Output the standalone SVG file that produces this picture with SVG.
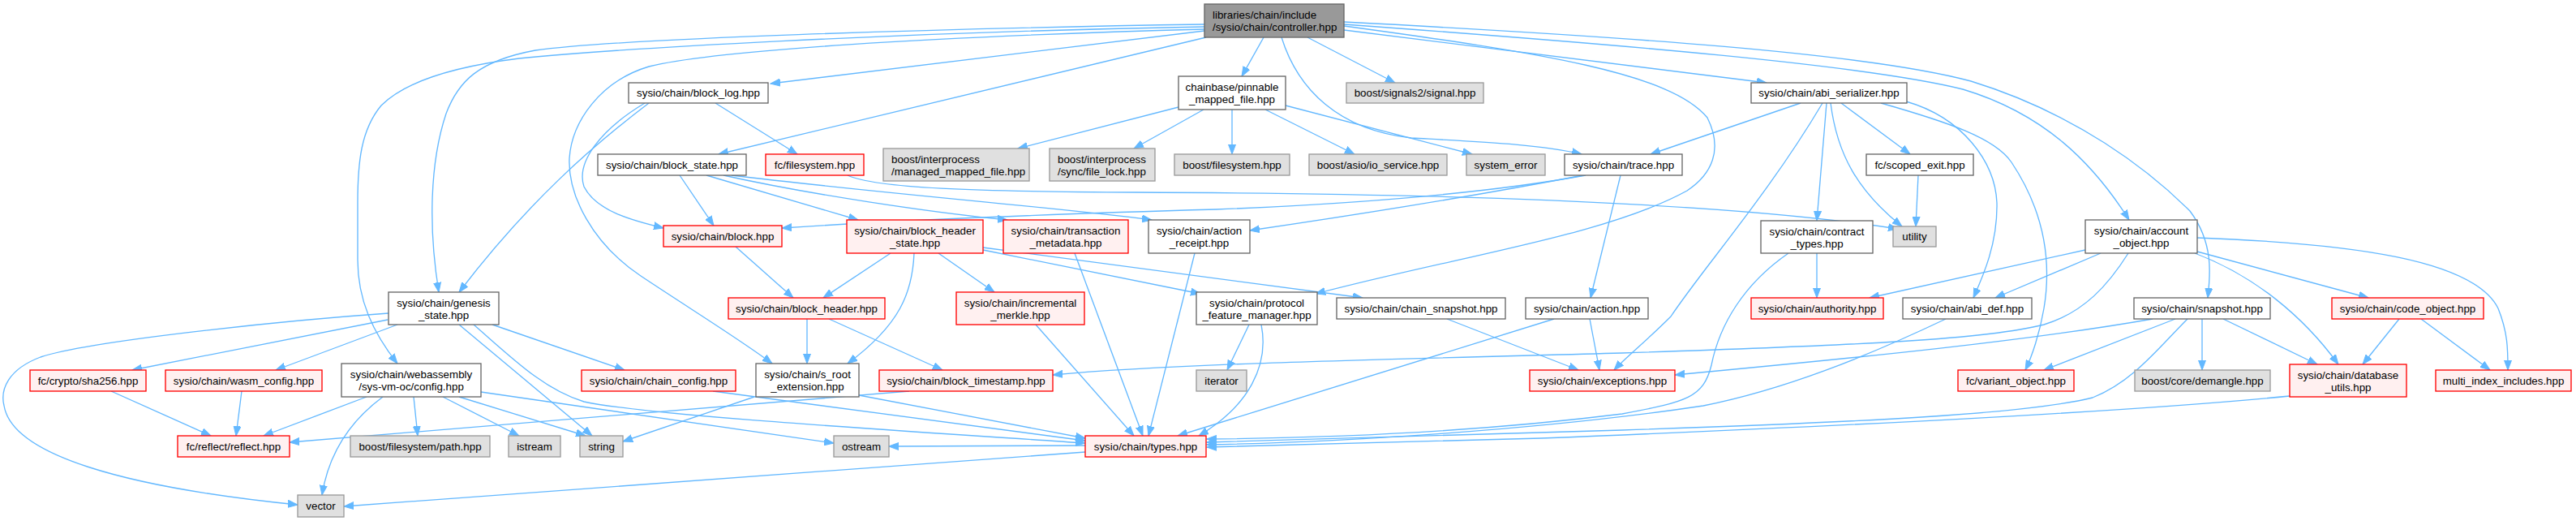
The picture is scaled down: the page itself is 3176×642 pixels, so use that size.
<svg xmlns="http://www.w3.org/2000/svg" width="3176" height="642" viewBox="0 0 3176 642">
<style>
rect{stroke-width:1.33}
.w{fill:#ffffff;stroke:#666666}
.r{fill:#fff0f0;stroke:#ff0000}
.g{fill:#e0e0e0;stroke:#999999}
.t{fill:#999999;stroke:#666666}
text{font-family:"Liberation Sans",Arial,Helvetica,sans-serif;font-size:13.33px;fill:#000000;text-anchor:middle}
text.l{text-anchor:start}
#edges path{fill:none;stroke:#63b8ff;stroke-width:1.33;marker-end:url(#a)}
</style>
<defs>
<marker id="a" markerWidth="13" markerHeight="10" refX="12" refY="5" orient="auto" markerUnits="userSpaceOnUse">
<path d="M0,0.5 L12,5 L0,9.5 z" fill="#63b8ff" stroke="#63b8ff" stroke-width="1"/>
</marker>
</defs>
<rect width="3176" height="642" fill="#ffffff"/>
<g id="edges">
<path d="M1485,38 L950,103"/>
<path d="M1487,46 L886,190"/>
<path d="M1485,30 C1150,35 760,48 660,62 C590,75 565,100 550,140 C530,200 528,280 541,360"/>
<path d="M1485,33 C1100,40 760,60 640,72 C560,82 500,100 470,130 C445,160 441,200 441,250 L441,320 C441,370 460,410 490,448"/>
<path d="M1485,36 C1150,45 880,62 800,82 C740,100 705,150 702,195 C700,240 730,300 790,340 C850,380 915,420 952,448"/>
<path d="M800,127 C730,180 650,250 566,360"/>
<path d="M795,127 C740,160 710,200 720,230 C735,260 780,272 818,281"/>
<path d="M882,127 L983,190"/>
<path d="M1558,46 L1531,94"/>
<path d="M1612,46 L1720,102"/>
<path d="M1580,46 C1600,110 1650,160 1740,170 C1830,175 1900,178 1950,190"/>
<path d="M1657,37 L2178,102"/>
<path d="M1657,32 C1900,65 2060,90 2105,145 C2125,185 2110,215 2080,235 C1980,290 1800,315 1622,362"/>
<path d="M1657,30 C2000,55 2300,80 2420,110 C2520,140 2580,200 2625,271"/>
<path d="M1657,27 C2000,45 2300,65 2430,100 C2560,140 2650,210 2700,260 C2730,300 2725,340 2722,367"/>
<path d="M1453,132 L1255,183"/>
<path d="M1484,135 L1398,183"/>
<path d="M1519,135 L1519,190"/>
<path d="M1560,135 L1670,190"/>
<path d="M1585,130 L1815,190"/>
<path d="M2220,127 L2035,190"/>
<path d="M2247,127 C2180,240 2100,330 2060,390 C2030,420 2005,440 1990,456"/>
<path d="M2252,127 L2240,272"/>
<path d="M2257,127 C2265,190 2290,235 2345,279"/>
<path d="M2270,127 L2355,190"/>
<path d="M2350,125 C2420,145 2460,200 2462,250 C2463,300 2445,340 2433,367"/>
<path d="M2319,127 C2400,150 2460,170 2480,200 C2520,260 2530,320 2520,380 C2515,410 2505,440 2497,456"/>
<path d="M2365,216 L2362,279"/>
<path d="M1045,216 C1080,232 1200,236 1400,237 C1700,238 2100,245 2340,282"/>
<path d="M1955,216 C1850,235 1700,250 1500,258 C1250,265 1100,272 964,281"/>
<path d="M1952,216 C1800,245 1650,268 1541,284"/>
<path d="M1998,216 L1961,367"/>
<path d="M838,216 L880,278"/>
<path d="M871,216 L1058,271"/>
<path d="M892,216 C1000,240 1150,262 1242,271"/>
<path d="M902,216 C1100,240 1300,255 1420,271"/>
<path d="M907,304 L978,367"/>
<path d="M1098,312 L1015,367"/>
<path d="M1127,312 C1125,360 1110,400 1045,448"/>
<path d="M1157,312 L1226,360"/>
<path d="M1212,308 L1480,362"/>
<path d="M1212,305 L1680,367"/>
<path d="M995,393 L995,448"/>
<path d="M1022,393 L1162,456"/>
<path d="M1277,400 L1398,537"/>
<path d="M1325,312 L1409,537"/>
<path d="M1473,312 L1416,537"/>
<path d="M1916,393 L1452,537"/>
<path d="M1960,393 L1972,456"/>
<path d="M1784,393 L1946,456"/>
<path d="M1540,400 L1513,456"/>
<path d="M1555,400 C1565,450 1540,500 1478,537"/>
<path d="M2240,312 L2240,367"/>
<path d="M2205,312 C2150,350 2120,400 2110,450 C2100,490 2080,495 2000,510 C1800,535 1600,540 1488,541"/>
<path d="M2571,308 L2305,367"/>
<path d="M2590,312 L2460,367"/>
<path d="M2624,312 C2600,350 2570,385 2520,400 C2450,418 2300,425 2000,435 C1700,443 1450,448 1298,462"/>
<path d="M2709,310 L2920,367"/>
<path d="M2706,312 C2780,340 2840,390 2883,449"/>
<path d="M2709,293 C2900,300 3050,320 3080,380 C3092,410 3092,430 3092,456"/>
<path d="M2654,393 C2500,420 2300,440 2065,462"/>
<path d="M2682,393 L2520,456"/>
<path d="M2697,393 C2660,430 2630,470 2580,490 C2500,510 2300,520 2000,530 C1800,537 1600,542 1488,545"/>
<path d="M2715,393 L2715,456"/>
<path d="M2741,393 L2857,449"/>
<path d="M2958,393 L2913,449"/>
<path d="M2985,393 L3070,456"/>
<path d="M2823,488 C2600,510 2200,528 1900,540 C1700,546 1560,550 1488,551"/>
<path d="M2399,393 C2300,440 2200,480 2100,500 C1900,530 1650,545 1488,548"/>
<path d="M479,386 C350,395 110,420 50,440 C10,455 0,480 5,500 C15,560 150,600 367,622"/>
<path d="M478,394 L163,456"/>
<path d="M490,400 L340,456"/>
<path d="M566,400 L730,537"/>
<path d="M584,400 C630,440 670,480 720,495 C800,512 1100,530 1338,546"/>
<path d="M607,400 L770,456"/>
<path d="M452,489 L325,537"/>
<path d="M472,489 C430,520 405,560 397,610"/>
<path d="M510,489 L515,537"/>
<path d="M546,489 L640,537"/>
<path d="M566,489 L722,537"/>
<path d="M593,483 L1028,546"/>
<path d="M137,482 L260,537"/>
<path d="M298,482 L291,537"/>
<path d="M1121,482 L357,545"/>
<path d="M930,489 L768,544"/>
<path d="M1059,487 L1338,540"/>
<path d="M879,482 L1338,543"/>
<path d="M1338,549 L1096,550"/>
<path d="M1338,557 L424,624"/>
</g>
<g id="n0"><rect class="t" x="1485" y="5" width="172" height="41"/><text class="l" x="1495" y="23">libraries/chain/include</text><text class="l" x="1495" y="38">/sysio/chain/controller.hpp</text></g>
<g id="n1"><rect class="w" x="775" y="102" width="172" height="25"/><text x="861" y="119">sysio/chain/block_log.hpp</text></g>
<g id="n2"><rect class="w" x="1453" y="94" width="132" height="41"/><text x="1519" y="112">chainbase/pinnable</text><text x="1519" y="127">_mapped_file.hpp</text></g>
<g id="n3"><rect class="g" x="1660" y="102" width="169" height="25"/><text x="1744.5" y="119">boost/signals2/signal.hpp</text></g>
<g id="n4"><rect class="w" x="2159" y="102" width="192" height="25"/><text x="2255" y="119">sysio/chain/abi_serializer.hpp</text></g>
<g id="n5"><rect class="w" x="737" y="190" width="183" height="26"/><text x="828.5" y="208">sysio/chain/block_state.hpp</text></g>
<g id="n6"><rect class="r" x="944" y="190" width="121" height="26"/><text x="1004.5" y="208">fc/filesystem.hpp</text></g>
<g id="n7"><rect class="g" x="1089" y="183" width="180" height="40"/><text class="l" x="1099" y="201">boost/interprocess</text><text class="l" x="1099" y="216">/managed_mapped_file.hpp</text></g>
<g id="n8"><rect class="g" x="1294" y="183" width="130" height="40"/><text class="l" x="1304" y="201">boost/interprocess</text><text class="l" x="1304" y="216">/sync/file_lock.hpp</text></g>
<g id="n9"><rect class="g" x="1448" y="190" width="142" height="26"/><text x="1519" y="208">boost/filesystem.hpp</text></g>
<g id="n10"><rect class="g" x="1614" y="190" width="170" height="26"/><text x="1699" y="208">boost/asio/io_service.hpp</text></g>
<g id="n11"><rect class="g" x="1808" y="190" width="97" height="26"/><text x="1856.5" y="208">system_error</text></g>
<g id="n12"><rect class="w" x="1929" y="190" width="145" height="26"/><text x="2001.5" y="208">sysio/chain/trace.hpp</text></g>
<g id="n13"><rect class="w" x="2301" y="190" width="132" height="26"/><text x="2367" y="208">fc/scoped_exit.hpp</text></g>
<g id="n14"><rect class="g" x="2334" y="279" width="53" height="25"/><text x="2360.5" y="296">utility</text></g>
<g id="n15"><rect class="w" x="2171" y="272" width="138" height="40"/><text x="2240" y="290">sysio/chain/contract</text><text x="2240" y="305">_types.hpp</text></g>
<g id="n16"><rect class="w" x="2571" y="271" width="138" height="41"/><text x="2640" y="289">sysio/chain/account</text><text x="2640" y="304">_object.hpp</text></g>
<g id="n17"><rect class="r" x="818" y="278" width="146" height="26"/><text x="891" y="296">sysio/chain/block.hpp</text></g>
<g id="n18"><rect class="r" x="1044" y="271" width="168" height="41"/><text x="1128" y="289">sysio/chain/block_header</text><text x="1128" y="304">_state.hpp</text></g>
<g id="n19"><rect class="r" x="1237" y="271" width="154" height="41"/><text x="1314" y="289">sysio/chain/transaction</text><text x="1314" y="304">_metadata.hpp</text></g>
<g id="n20"><rect class="w" x="1416" y="271" width="125" height="41"/><text x="1478.5" y="289">sysio/chain/action</text><text x="1478.5" y="304">_receipt.hpp</text></g>
<g id="n21"><rect class="w" x="479" y="360" width="136" height="40"/><text x="547" y="378">sysio/chain/genesis</text><text x="547" y="393">_state.hpp</text></g>
<g id="n22"><rect class="r" x="898" y="367" width="193" height="26"/><text x="994.5" y="385">sysio/chain/block_header.hpp</text></g>
<g id="n23"><rect class="r" x="1179" y="360" width="158" height="40"/><text x="1258" y="378">sysio/chain/incremental</text><text x="1258" y="393">_merkle.hpp</text></g>
<g id="n24"><rect class="w" x="1475" y="360" width="149" height="40"/><text x="1549.5" y="378">sysio/chain/protocol</text><text x="1549.5" y="393">_feature_manager.hpp</text></g>
<g id="n25"><rect class="w" x="1648" y="367" width="208" height="26"/><text x="1752" y="385">sysio/chain/chain_snapshot.hpp</text></g>
<g id="n26"><rect class="w" x="1881" y="367" width="151" height="26"/><text x="1956.5" y="385">sysio/chain/action.hpp</text></g>
<g id="n27"><rect class="r" x="2159" y="367" width="163" height="26"/><text x="2240.5" y="385">sysio/chain/authority.hpp</text></g>
<g id="n28"><rect class="w" x="2346" y="367" width="159" height="26"/><text x="2425.5" y="385">sysio/chain/abi_def.hpp</text></g>
<g id="n29"><rect class="w" x="2631" y="367" width="168" height="26"/><text x="2715" y="385">sysio/chain/snapshot.hpp</text></g>
<g id="n30"><rect class="r" x="2875" y="367" width="187" height="26"/><text x="2968.5" y="385">sysio/chain/code_object.hpp</text></g>
<g id="n31"><rect class="r" x="37" y="456" width="143" height="26"/><text x="108.5" y="474">fc/crypto/sha256.hpp</text></g>
<g id="n32"><rect class="r" x="204" y="456" width="193" height="26"/><text x="300.5" y="474">sysio/chain/wasm_config.hpp</text></g>
<g id="n33"><rect class="w" x="421" y="448" width="172" height="41"/><text x="507" y="466">sysio/chain/webassembly</text><text x="507" y="481">/sys-vm-oc/config.hpp</text></g>
<g id="n34"><rect class="r" x="717" y="456" width="190" height="26"/><text x="812" y="474">sysio/chain/chain_config.hpp</text></g>
<g id="n35"><rect class="w" x="932" y="448" width="127" height="41"/><text x="995.5" y="466">sysio/chain/s_root</text><text x="995.5" y="481">_extension.hpp</text></g>
<g id="n36"><rect class="r" x="1084" y="456" width="214" height="26"/><text x="1191" y="474">sysio/chain/block_timestamp.hpp</text></g>
<g id="n37"><rect class="g" x="1475" y="456" width="62" height="26"/><text x="1506" y="474">iterator</text></g>
<g id="n38"><rect class="r" x="1886" y="456" width="179" height="26"/><text x="1975.5" y="474">sysio/chain/exceptions.hpp</text></g>
<g id="n39"><rect class="r" x="2414" y="456" width="143" height="26"/><text x="2485.5" y="474">fc/variant_object.hpp</text></g>
<g id="n40"><rect class="g" x="2632" y="456" width="167" height="26"/><text x="2715.5" y="474">boost/core/demangle.hpp</text></g>
<g id="n41"><rect class="r" x="2823" y="449" width="144" height="40"/><text x="2895" y="467">sysio/chain/database</text><text x="2895" y="482">_utils.hpp</text></g>
<g id="n42"><rect class="r" x="3003" y="456" width="167" height="26"/><text x="3086.5" y="474">multi_index_includes.hpp</text></g>
<g id="n43"><rect class="r" x="219" y="537" width="138" height="26"/><text x="288" y="555">fc/reflect/reflect.hpp</text></g>
<g id="n44"><rect class="g" x="432" y="537" width="172" height="26"/><text x="518" y="555">boost/filesystem/path.hpp</text></g>
<g id="n45"><rect class="g" x="627" y="537" width="64" height="26"/><text x="659" y="555">istream</text></g>
<g id="n46"><rect class="g" x="715" y="537" width="53" height="26"/><text x="741.5" y="555">string</text></g>
<g id="n47"><rect class="g" x="1028" y="537" width="68" height="26"/><text x="1062" y="555">ostream</text></g>
<g id="n48"><rect class="r" x="1338" y="537" width="149" height="26"/><text x="1412.5" y="555">sysio/chain/types.hpp</text></g>
<g id="n49"><rect class="g" x="367" y="610" width="57" height="27"/><text x="395.5" y="628">vector</text></g>
</svg>
